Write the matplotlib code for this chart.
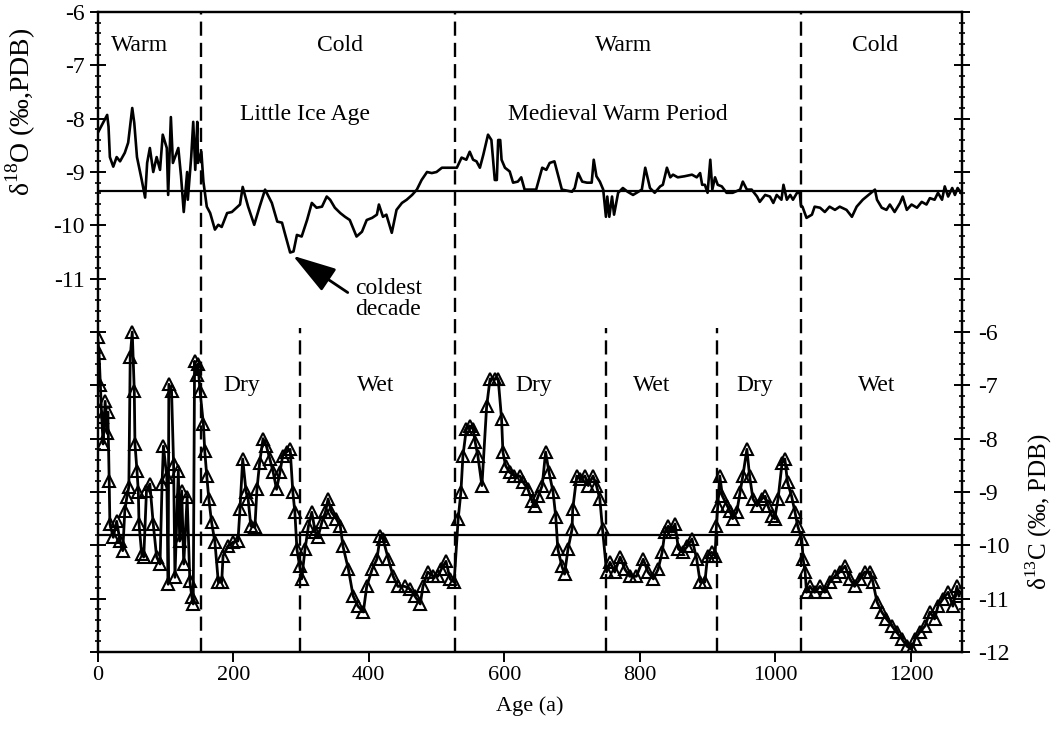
import numpy as np
import matplotlib
matplotlib.use('Agg')
import matplotlib.pyplot as plt
from matplotlib.ticker import MultipleLocator, FuncFormatter

plt.rcParams['font.family'] = ['Liberation Serif', 'DejaVu Serif']
plt.rcParams['mathtext.fontset'] = 'custom'
plt.rcParams['mathtext.rm'] = 'Liberation Serif'
plt.rcParams['axes.unicode_minus'] = False

# delta 18O record (age in a, value in permil PDB)
o_age = [0, 5, 8, 14, 16, 18, 23, 28, 33, 40, 45, 51, 54, 58, 65, 70, 73, 77, 82, 87,
         92, 96, 102, 104, 108, 111, 119, 123, 127, 132, 133, 138, 141, 144, 147, 148, 153,
         156, 161, 166, 173, 178, 183, 191, 198, 210, 214, 222, 231, 239, 247, 257, 265,
         272, 276, 284, 289, 294, 301, 309, 316, 323, 331, 338, 343, 350, 358, 365, 372,
         382, 390, 397, 405, 412, 415, 421, 426, 434, 441, 449, 456, 464, 471, 478, 486,
         493, 500, 508, 524, 530, 537, 544, 549, 554, 559, 564, 569, 576, 581, 586, 589,
         591, 594, 596, 601, 608, 613, 620, 625, 630, 637, 647, 656, 662, 667, 674, 685,
         700, 704, 709, 715, 722, 729, 732, 736, 741, 746, 750, 752, 755, 759, 762, 768,
         775, 782, 790, 803, 808, 815, 822, 830, 834, 840, 845, 849, 856, 866, 877, 884,
         889, 892, 896, 900, 904, 907, 911, 915, 921, 928, 937, 948, 952, 958, 965, 973,
         977, 985, 992, 997, 1002, 1009, 1012, 1017, 1022, 1026, 1032, 1036, 1038, 1040,
         1046, 1054, 1058, 1066, 1073, 1080, 1088, 1095, 1105, 1113, 1120, 1129, 1147,
         1150, 1157, 1164, 1169, 1176, 1184, 1188, 1194, 1201, 1209, 1216, 1223, 1228,
         1235, 1240, 1246, 1250, 1255, 1261, 1265, 1269, 1274]
o_val = [-8.27, -8.15, -8.08, -7.93, -8.15, -8.72, -8.9, -8.72, -8.8, -8.64, -8.45, -7.8,
         -8.08, -8.72, -9.15, -9.48, -8.83, -8.55, -9.0, -8.72, -8.96, -8.3, -8.55, -9.43,
         -7.97, -8.83, -8.55, -9.08, -9.75, -9.0, -9.52, -8.72, -8.06, -8.96, -8.06, -8.83,
         -8.62, -9.18, -9.65, -9.77, -10.08, -9.99, -10.03, -9.77, -9.75, -9.61, -9.28,
         -9.65, -9.99, -9.65, -9.33, -9.58, -9.93, -9.95, -10.14, -10.51, -10.49, -10.18,
         -10.21, -9.9, -9.58, -9.67, -9.65, -9.46, -9.52, -9.67, -9.77, -9.84, -9.9,
         -10.21, -10.12, -9.9, -9.86, -9.8, -9.61, -9.84, -9.8, -10.14, -9.71, -9.58,
         -9.52, -9.43, -9.33, -9.15, -9.0, -9.02, -9.0, -8.92, -8.92, -8.92, -8.73, -8.77,
         -8.62, -8.77, -8.8, -8.92, -8.68, -8.3, -8.4, -9.15, -9.15, -8.4, -8.4, -8.77,
         -8.92, -8.99, -9.2, -9.18, -9.1, -9.33, -9.33, -9.33, -8.92, -8.96, -8.83, -8.8,
         -9.33, -9.37, -9.3, -9.02, -9.18, -9.2, -9.2, -8.77, -9.08, -9.18, -9.33, -9.84,
         -9.46, -9.84, -9.46, -9.8, -9.39, -9.3, -9.37, -9.43, -9.33, -8.92, -9.3, -9.39,
         -9.27, -9.24, -8.92, -9.1, -9.05, -9.1, -9.08, -9.05, -9.1, -9.02, -9.24, -9.24,
         -9.39, -8.77, -9.33, -9.1, -9.24, -9.27, -9.39, -9.39, -9.33, -9.18, -9.33,
         -9.33, -9.46, -9.56, -9.43, -9.46, -9.58, -9.43, -9.52, -9.24, -9.52, -9.43,
         -9.52, -9.39, -9.39, -9.65, -9.65, -9.86, -9.8, -9.65, -9.67, -9.75, -9.65,
         -9.71, -9.65, -9.71, -9.84, -9.65, -9.52, -9.33, -9.52, -9.67, -9.71, -9.61,
         -9.75, -9.58, -9.46, -9.71, -9.61, -9.67, -9.56, -9.61, -9.49, -9.52, -9.39,
         -9.52, -9.27, -9.46, -9.3, -9.43, -9.3, -9.39]

# delta 13C record
c_age = [0, 2, 4, 6, 8, 11, 14, 15, 17, 18, 23, 28, 33, 37, 40, 43, 46, 48, 51, 54, 55,
         58, 60, 61, 65, 68, 72, 77, 82, 87, 92, 95, 97, 102, 104, 105, 109, 112, 114,
         119, 121, 124, 127, 132, 136, 139, 141, 143, 146, 148, 151, 156, 158, 161, 164,
         168, 173, 178, 183, 185, 192, 200, 207, 210, 214, 219, 222, 226, 232, 235, 239,
         244, 249, 254, 259, 264, 269, 273, 279, 284, 288, 291, 294, 298, 301, 306, 311,
         316, 321, 325, 331, 336, 340, 345, 352, 358, 362, 370, 377, 384, 392, 397, 405,
         412, 417, 421, 429, 436, 443, 453, 461, 468, 476, 480, 487, 495, 502, 507, 514,
         520, 526, 532, 536, 539, 544, 549, 554, 557, 561, 567, 574, 579, 586, 591, 596,
         598, 602, 608, 615, 623, 628, 635, 641, 645, 650, 656, 661, 666, 672, 676, 679,
         685, 689, 694, 700, 701, 707, 712, 719, 724, 731, 736, 741, 745, 751, 756, 763,
         771, 778, 785, 795, 805, 812, 820, 827, 833, 837, 842, 847, 852, 857, 863, 870,
         877, 884, 889, 896, 900, 906, 911, 913, 915, 918, 922, 929, 933, 937, 943, 948,
         952, 958, 962, 967, 973, 980, 985, 989, 995, 999, 1004, 1010, 1014, 1018, 1024,
         1029, 1033, 1039, 1041, 1044, 1046, 1051, 1058, 1066, 1073, 1080, 1088, 1095,
         1103, 1110, 1117, 1125, 1132, 1140, 1144, 1150, 1157, 1164, 1172, 1179, 1187,
         1194, 1201, 1206, 1213, 1221, 1228, 1235, 1240, 1247, 1255, 1262, 1268, 1271]
c_val = [-6.09, -6.4, -7.0, -7.6, -8.1, -7.3, -7.9, -7.5, -8.8, -9.6, -9.85, -9.55, -9.92,
         -10.1, -9.36, -9.1, -8.9, -6.47, -6.0, -7.1, -8.1, -8.6, -9.0, -9.6, -10.17,
         -10.22, -8.98, -8.85, -9.6, -10.22, -10.35, -8.85, -8.14, -8.72, -10.73, -6.98,
         -7.1, -8.47, -10.6, -8.6, -9.92, -8.98, -10.35, -9.1, -10.67, -10.97, -11.1,
         -6.55, -6.8, -6.6, -7.1, -7.73, -8.23, -8.7, -9.13, -9.56, -9.94, -10.69, -10.69,
         -10.2, -10.02, -9.94, -9.92, -9.32, -8.38, -9.0, -9.13, -9.64, -9.66, -8.95,
         -8.45, -8.0, -8.14, -8.38, -8.63, -8.95, -8.63, -8.32, -8.25, -8.2, -9.0, -9.38,
         -10.07, -10.39, -10.63, -10.07, -9.64, -9.38, -9.75, -9.85, -9.56, -9.38, -9.13,
         -9.38, -9.5, -9.64, -10.02, -10.45, -10.95, -11.14, -11.25, -10.77, -10.45,
         -10.26, -9.83, -9.88, -10.26, -10.58, -10.77, -10.77, -10.82, -10.95, -11.1,
         -10.77, -10.5, -10.58, -10.58, -10.45, -10.3, -10.63, -10.69, -9.5, -9.0, -8.32,
         -7.82, -7.76, -7.82, -8.06, -8.32, -8.88, -7.39, -6.88, -6.88, -6.88, -7.63,
         -8.25, -8.51, -8.63, -8.7, -8.7, -8.82, -8.95, -9.17, -9.26, -9.08, -8.88, -8.25,
         -8.63, -9.0, -9.47, -10.07, -10.39, -10.54, -10.07, -9.7, -9.32, -8.7, -8.76,
         -8.7, -8.88, -8.7, -8.88, -9.13, -9.7, -10.5, -10.32, -10.5, -10.22, -10.45,
         -10.58, -10.58, -10.26, -10.5, -10.63, -10.45, -10.13, -9.75, -9.64, -9.75, -9.6,
         -10.07, -10.13, -10.02, -9.88, -10.26, -10.69, -10.69, -10.2, -10.13, -10.2,
         -9.64, -9.26, -8.7, -9.08, -9.26, -9.36, -9.5, -9.38, -9.0, -8.7, -8.2, -8.7,
         -9.13, -9.26, -9.13, -9.08, -9.26, -9.45, -9.5, -9.13, -8.45, -8.38, -8.82,
         -9.08, -9.38, -9.64, -9.88, -10.26, -10.5, -10.88, -10.77, -10.88, -10.77,
         -10.88, -10.69, -10.58, -10.5, -10.39, -10.63, -10.77, -10.63, -10.5, -10.5,
         -10.69, -11.06, -11.25, -11.38, -11.51, -11.63, -11.76, -11.89, -11.95, -11.76,
         -11.63, -11.51, -11.25, -11.38, -11.14, -11.01, -10.88, -11.14, -10.77, -10.95]

o_mean = -9.35
c_mean = -9.81

# period boundaries
full_bounds = [152, 527, 1038]
c_bounds = [298, 750, 914]

o_periods = ['Warm', 'Cold', 'Warm', 'Cold']
o_period_x = [62, 358, 776, 1147]
o_names = ['Little Ice Age', 'Medieval Warm Period']
o_names_x = [306, 768]

c_periods = ['Dry', 'Wet', 'Dry', 'Wet', 'Dry', 'Wet']
c_period_x = [213, 410, 644, 818, 970, 1150]

fig = plt.figure(figsize=(10.56, 7.32), dpi=100)
ax = fig.add_axes([0.0925, 0.1093, 0.8182, 0.8743])
ax2 = ax.twinx()

ax.set_xlim(0, 1275)
ax.set_ylim(-18, -6)
ax2.set_ylim(-12, 0)

ax.plot(o_age, o_val, color='black', lw=1.9, zorder=3)
ax.axhline(o_mean, color='black', lw=1.6)

ax2.plot(c_age, c_val, color='black', lw=2, marker='^', ms=8,
         mfc='none', mec='black', mew=1.5, zorder=3)
ax2.axhline(c_mean, color='black', lw=1.6)

for b in full_bounds:
    ax.axvline(b, color='black', lw=1.7, dashes=(6, 3))
for b in c_bounds:
    ax.axvline(b, ymin=0, ymax=0.506, color='black', lw=1.7, dashes=(6, 3))

for name, xp in zip(o_periods, o_period_x):
    ax.text(xp, -6.62, name, ha='center', va='center', fontsize=17)
for name, xp in zip(o_names, o_names_x):
    ax.text(xp, -7.93, name, ha='center', va='center', fontsize=17)
for name, xp in zip(c_periods, c_period_x):
    ax2.text(xp, -7.0, name, ha='center', va='center', fontsize=17)

ax.annotate('', xy=(288, -10.57), xytext=(369, -11.26),
            arrowprops=dict(arrowstyle='-|>,head_length=1.8,head_width=0.55',
                            lw=2, color='black', shrinkA=0, shrinkB=0),
            fontsize=15)
ax.text(380, -11.39, 'coldest\ndecade', ha='left', va='center', fontsize=17,
        linespacing=1.0)

# axes styling
for s in ax.spines.values():
    s.set_linewidth(1.6)
ax.set_xticks(np.arange(0, 1201, 200))
ax.tick_params(axis='x', direction='out', length=7, width=1.4, labelsize=16, pad=3,
               top=False)

ax.yaxis.set_major_locator(MultipleLocator(1))
ax.yaxis.set_minor_locator(MultipleLocator(0.2))
ax.yaxis.set_major_formatter(FuncFormatter(lambda v, p: f'{v:.0f}' if v >= -11.01 else ''))
ax.tick_params(axis='y', which='major', direction='inout', length=11, width=1.4,
               labelsize=17, pad=4)
ax.tick_params(axis='y', which='minor', direction='inout', length=5, width=1.2)

ax2.yaxis.set_major_locator(MultipleLocator(1))
ax2.yaxis.set_minor_locator(MultipleLocator(0.2))
ax2.yaxis.set_major_formatter(FuncFormatter(lambda v, p: f'{v:.0f}' if v <= -5.99 else ''))
ax2.tick_params(axis='y', which='major', direction='inout', length=11, width=1.4,
                labelsize=17, pad=6)
ax2.tick_params(axis='y', which='minor', direction='inout', length=5, width=1.2)
for s in ax2.spines.values():
    s.set_linewidth(1.6)

ax.set_xlabel('Age (a)', fontsize=16, labelpad=8)
ax.set_ylabel('δ$^{18}$O (‰,PDB)', fontsize=20)
ax.yaxis.set_label_coords(-0.069, 0.844)
ax2.set_ylabel('δ$^{13}$C (‰, PDB)', fontsize=18)
ax2.yaxis.set_label_coords(1.071, 0.22)

fig.savefig('out.png', dpi=100)
